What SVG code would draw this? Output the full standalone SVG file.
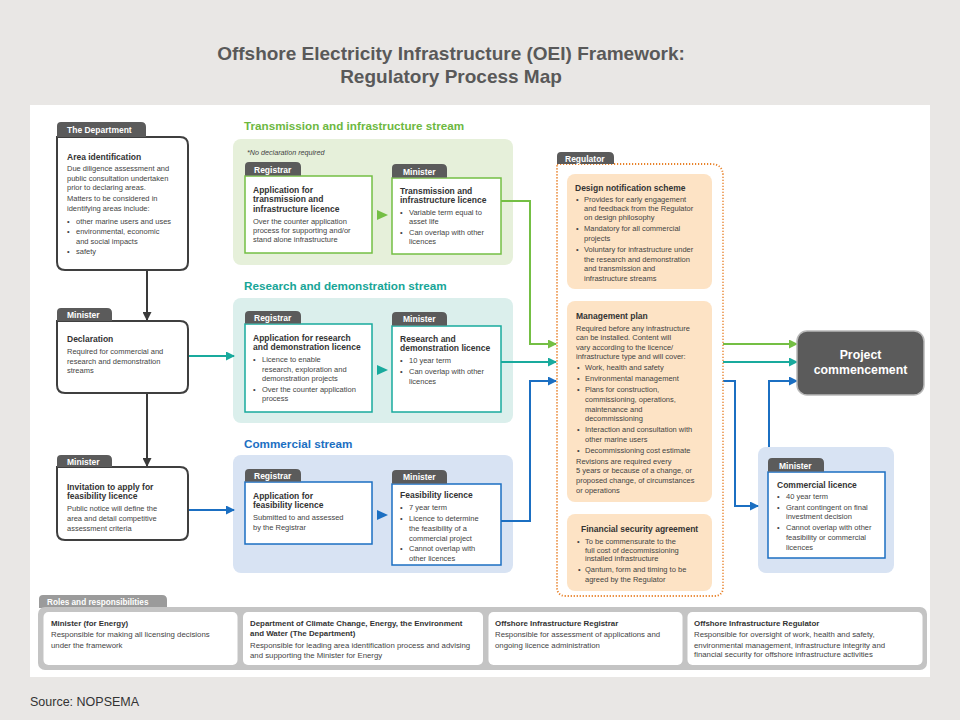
<svg xmlns="http://www.w3.org/2000/svg" width="960" height="720" viewBox="0 0 960 720">
<defs>
<style>
text{font-family:"Liberation Sans",Arial,sans-serif;}
.title{font-size:19px;font-weight:bold;fill:#595959;}
.src{font-size:12.5px;fill:#333;}
.h{font-size:8.5px;font-weight:bold;fill:#333;}
.b{font-size:7.5px;fill:#444;}
.tt{font-size:8.5px;font-weight:bold;fill:#fff;}
.tab{fill:#5b5b5b;}
.lbox{fill:#fff;stroke:#3f3f3f;stroke-width:2;}
.st{font-size:11.7px;font-weight:bold;}
.gbox{fill:#fff;stroke:#74bf44;stroke-width:1.5;}
.tbox{fill:#fff;stroke:#19aa9d;stroke-width:1.5;}
.bbox{fill:#fff;stroke:#1b6fc2;stroke-width:1.5;}
.peach{fill:#fde3c5;}
.conn{fill:none;stroke-width:2;}
.rh{font-size:7.9px;font-weight:bold;fill:#333;}
.rb{font-size:7.8px;fill:#444;}
</style>
<marker id="ak" markerUnits="userSpaceOnUse" markerWidth="9" markerHeight="9" refX="8" refY="4.5" orient="auto"><path d="M0,0 L9,4.5 L0,9 Z" fill="#3a3a3a"/></marker>
<marker id="ag" markerUnits="userSpaceOnUse" markerWidth="9" markerHeight="9" refX="8" refY="4.5" orient="auto"><path d="M0,0 L9,4.5 L0,9 Z" fill="#74bf44"/></marker>
<marker id="at" markerUnits="userSpaceOnUse" markerWidth="9" markerHeight="9" refX="8" refY="4.5" orient="auto"><path d="M0,0 L9,4.5 L0,9 Z" fill="#19aa9d"/></marker>
<marker id="ab" markerUnits="userSpaceOnUse" markerWidth="9" markerHeight="9" refX="8" refY="4.5" orient="auto"><path d="M0,0 L9,4.5 L0,9 Z" fill="#1b6fc2"/></marker>
</defs>

<rect width="960" height="720" fill="#e9e7e5"/>
<rect x="30" y="105" width="900" height="572" fill="#fff"/>

<text class="title" x="451" y="60" text-anchor="middle">Offshore Electricity Infrastructure (OEI) Framework:</text>
<text class="title" x="451" y="83" text-anchor="middle">Regulatory Process Map</text>
<text class="src" x="30" y="706">Source: NOPSEMA</text>

<!-- Stream backgrounds -->
<rect x="233" y="139" width="280" height="126" rx="8" fill="#e6f0da"/>
<rect x="233" y="298" width="280" height="125" rx="8" fill="#dbefec"/>
<rect x="233" y="455" width="280" height="118" rx="8" fill="#d8e3f3"/>
<rect x="758" y="447" width="136" height="126" rx="8" fill="#d8e3f3"/>
<text class="st" x="244" y="130" fill="#6db83f">Transmission and infrastructure stream</text>
<text class="st" x="244" y="290" fill="#17a597">Research and demonstration stream</text>
<text class="st" x="244" y="448" fill="#1b6fc2">Commercial stream</text>
<text x="247" y="155" style="font-size:7.2px;font-style:italic;fill:#444">*No declaration required</text>

<!-- Connectors -->
<g id="connectors">
<path class="conn" stroke="#3a3a3a" d="M147 271 V320" marker-end="url(#ak)"/>
<path class="conn" stroke="#3a3a3a" d="M147 393 V466" marker-end="url(#ak)"/>
<path class="conn" stroke="#19aa9d" d="M188 356 H234" marker-end="url(#at)"/>
<path class="conn" stroke="#1b6fc2" d="M188 510 H234" marker-end="url(#ab)"/>
<path class="conn" stroke="#74bf44" d="M501 201 H530 V344 H556" marker-end="url(#ag)"/>
<path class="conn" stroke="#19aa9d" d="M501 362 H556" marker-end="url(#at)"/>
<path class="conn" stroke="#1b6fc2" d="M501 521 H530 V381 H556" marker-end="url(#ab)"/>
<path class="conn" stroke="#74bf44" d="M723 344 H797" marker-end="url(#ag)"/>
<path class="conn" stroke="#19aa9d" d="M723 362 H797" marker-end="url(#at)"/>
<path class="conn" stroke="#1b6fc2" d="M723 381 H735 V506 H758" marker-end="url(#ab)"/>
<path class="conn" stroke="#1b6fc2" d="M769 447 V381 H797" marker-end="url(#ab)"/>
<polygon points="377,210 388,215 377,220" fill="#74bf44"/>
<polygon points="377,365 388,370 377,375" fill="#19aa9d"/>
<polygon points="377,510 388,515 377,520" fill="#1b6fc2"/>
</g>

<!-- Left column -->
<g id="area-identification">
<path class="lbox" d="M57 137 H180 Q188 137 188 145 V262 Q188 270 180 270 H65 Q57 270 57 262 Z"/>
<path class="tab" d="M57 137 V126 Q57 122 61 122 H141 Q146 122 146 127 V137 Z"/>
<text class="tt" x="67" y="133">The Department</text>
<text class="h" x="67" y="160">Area identification</text>
<text class="b" x="67" y="171">Due diligence assessment and</text>
<text class="b" x="67" y="181">public consultation undertaken</text>
<text class="b" x="67" y="190">prior to declaring areas.</text>
<text class="b" x="67" y="201">Matters to be considered in</text>
<text class="b" x="67" y="211">identifying areas include:</text>
<text class="b" x="67" y="224">•</text><text class="b" x="76" y="224">other marine users and uses</text>
<text class="b" x="67" y="234">•</text><text class="b" x="76" y="234">environmental, economic</text>
<text class="b" x="76" y="244">and social impacts</text>
<text class="b" x="67" y="254">•</text><text class="b" x="76" y="254">safety</text>
</g>

<g id="declaration">
<path class="lbox" d="M57 321 H180 Q188 321 188 329 V385 Q188 393 180 393 H65 Q57 393 57 385 Z"/>
<path class="tab" d="M57 321 V312 Q57 308 61 308 H107 Q112 308 112 313 V321 Z"/>
<text class="tt" x="67" y="318">Minister</text>
<text class="h" x="67" y="342">Declaration</text>
<text class="b" x="67" y="354">Required for commercial and</text>
<text class="b" x="67" y="364">research and demonstration</text>
<text class="b" x="67" y="373">streams</text>
</g>

<g id="invitation">
<path class="lbox" d="M57 467 H180 Q188 467 188 475 V532 Q188 540 180 540 H65 Q57 540 57 532 Z"/>
<path class="tab" d="M57 467 V459 Q57 455 61 455 H107 Q112 455 112 460 V467 Z"/>
<text class="tt" x="67" y="465">Minister</text>
<text class="h" x="67" y="490">Invitation to apply for</text>
<text class="h" x="67" y="499">feasibility licence</text>
<text class="b" x="67" y="511">Public notice will define the</text>
<text class="b" x="67" y="521">area and detail competitive</text>
<text class="b" x="67" y="531">assessment criteria</text>
</g>

<!-- Transmission stream -->
<g id="trans-application">
<rect class="gbox" x="245" y="176" width="127" height="77"/>
<path class="tab" d="M245 175.5 V166 Q245 162 249 162 H296 Q301 162 301 167 V175.5 Z"/>
<text class="tt" x="254" y="172.5">Registrar</text>
<text class="h" x="253" y="193">Application for</text>
<text class="h" x="253" y="202">transmission and</text>
<text class="h" x="253" y="211.5">infrastructure licence</text>
<text class="b" x="253" y="223.5">Over the counter application</text>
<text class="b" x="253" y="232.5">process for supporting and/or</text>
<text class="b" x="253" y="242">stand alone infrastructure</text>
</g>
<g id="trans-licence">
<rect class="gbox" x="392" y="178" width="109" height="76"/>
<path class="tab" d="M392 177.5 V168 Q392 164 396 164 H442 Q447 164 447 169 V177.5 Z"/>
<text class="tt" x="403" y="174.5">Minister</text>
<text class="h" x="400" y="194">Transmission and</text>
<text class="h" x="400" y="203">infrastructure licence</text>
<text class="b" x="400" y="214.5">•</text><text class="b" x="409" y="214.5">Variable term equal to</text>
<text class="b" x="409" y="223.5">asset life</text>
<text class="b" x="400" y="235">•</text><text class="b" x="409" y="235">Can overlap with other</text>
<text class="b" x="409" y="244">licences</text>
</g>

<!-- Research stream -->
<g id="research-application">
<rect class="tbox" x="245" y="324" width="127" height="88"/>
<path class="tab" d="M245 323.5 V315 Q245 311 249 311 H296 Q301 311 301 316 V323.5 Z"/>
<text class="tt" x="254" y="321">Registrar</text>
<text class="h" x="253" y="341">Application for research</text>
<text class="h" x="253" y="350">and demonstration licence</text>
<text class="b" x="253" y="361.5">•</text><text class="b" x="262" y="361.5">Licence to enable</text>
<text class="b" x="262" y="371.5">research, exploration and</text>
<text class="b" x="262" y="381">demonstration projects</text>
<text class="b" x="253" y="391.5">•</text><text class="b" x="262" y="391.5">Over the counter application</text>
<text class="b" x="262" y="401">process</text>
</g>
<g id="research-licence">
<rect class="tbox" x="392" y="326" width="109" height="86"/>
<path class="tab" d="M392 325.5 V316 Q392 312 396 312 H442 Q447 312 447 317 V325.5 Z"/>
<text class="tt" x="403" y="322">Minister</text>
<text class="h" x="400" y="341.5">Research and</text>
<text class="h" x="400" y="351">demonstration licence</text>
<text class="b" x="400" y="362.5">•</text><text class="b" x="409" y="362.5">10 year term</text>
<text class="b" x="400" y="373.5">•</text><text class="b" x="409" y="373.5">Can overlap with other</text>
<text class="b" x="409" y="383.5">licences</text>
</g>

<!-- Commercial stream -->
<g id="commercial-application">
<rect class="bbox" x="245" y="482" width="127" height="62"/>
<path class="tab" d="M245 481.5 V473 Q245 469 249 469 H296 Q301 469 301 474 V481.5 Z"/>
<text class="tt" x="254" y="479">Registrar</text>
<text class="h" x="253" y="499">Application for</text>
<text class="h" x="253" y="508">feasibility licence</text>
<text class="b" x="253" y="520">Submitted to and assessed</text>
<text class="b" x="253" y="530">by the Registrar</text>
</g>
<g id="feasibility-licence">
<rect class="bbox" x="392" y="484" width="109" height="81"/>
<path class="tab" d="M392 483.5 V474 Q392 470 396 470 H442 Q447 470 447 475 V483.5 Z"/>
<text class="tt" x="403" y="480">Minister</text>
<text class="h" x="400" y="498">Feasibility licence</text>
<text class="b" x="400" y="510">•</text><text class="b" x="409" y="510">7 year term</text>
<text class="b" x="400" y="521">•</text><text class="b" x="409" y="521">Licence to determine</text>
<text class="b" x="409" y="531">the feasibility of a</text>
<text class="b" x="409" y="540.5">commercial project</text>
<text class="b" x="400" y="551">•</text><text class="b" x="409" y="551">Cannot overlap with</text>
<text class="b" x="409" y="560.5">other licences</text>
</g>

<!-- Regulator -->
<g id="regulator">
<path d="M557 164 H711 Q723 164 723 176 V587 Q723 596 714 596 H566 Q557 596 557 587 Z" fill="none" stroke="#e8822a" stroke-width="1.8" stroke-dasharray="1.2 1.8"/>
<path class="tab" d="M557 164 V156 Q557 152 561 152 H609 Q614 152 614 157 V164 Z"/>
<text class="tt" x="565" y="161.5">Regulator</text>
</g>
<g id="design-notification">
<rect class="peach" x="567" y="174" width="145" height="115" rx="8"/>
<text class="h" x="575" y="191">Design notification scheme</text>
<text class="b" x="576" y="201.5">•</text><text class="b" x="584" y="201.5">Provides for early engagement</text>
<text class="b" x="584" y="211">and feedback from the Regulator</text>
<text class="b" x="584" y="219.5">on design philosophy</text>
<text class="b" x="576" y="231">•</text><text class="b" x="584" y="231">Mandatory for all commercial</text>
<text class="b" x="584" y="241">projects</text>
<text class="b" x="576" y="251.5">•</text><text class="b" x="584" y="251.5">Voluntary for infrastructure under</text>
<text class="b" x="584" y="261.5">the research and demonstration</text>
<text class="b" x="584" y="271">and transmission and</text>
<text class="b" x="584" y="281">infrastructure streams</text>
</g>
<g id="management-plan">
<rect class="peach" x="567" y="301" width="145" height="201" rx="8"/>
<text class="h" x="576" y="319">Management plan</text>
<text class="b" x="576" y="331">Required before any infrastructure</text>
<text class="b" x="576" y="340">can be installed. Content will</text>
<text class="b" x="576" y="349.5">vary according to the licence/</text>
<text class="b" x="576" y="358.5">infrastructure type and will cover:</text>
<text class="b" x="577" y="370">•</text><text class="b" x="585" y="370">Work, health and safety</text>
<text class="b" x="577" y="381">•</text><text class="b" x="585" y="381">Environmental management</text>
<text class="b" x="577" y="392">•</text><text class="b" x="585" y="392">Plans for construction,</text>
<text class="b" x="585" y="402">commissioning, operations,</text>
<text class="b" x="585" y="411.5">maintenance and</text>
<text class="b" x="585" y="421">decommissioning</text>
<text class="b" x="577" y="432">•</text><text class="b" x="585" y="432">Interaction and consultation with</text>
<text class="b" x="585" y="441.5">other marine users</text>
<text class="b" x="577" y="452.5">•</text><text class="b" x="585" y="452.5">Decommissioning cost estimate</text>
<text class="b" x="576" y="463.5">Revisions are required every</text>
<text class="b" x="576" y="473">5 years or because of a change, or</text>
<text class="b" x="576" y="483">proposed change, of circumstances</text>
<text class="b" x="576" y="492.5">or operations</text>
</g>
<g id="financial-security">
<rect class="peach" x="567" y="514" width="145" height="77" rx="8"/>
<text class="h" x="581" y="532">Financial security agreement</text>
<text class="b" x="577" y="543.5">•</text><text class="b" x="585" y="543.5">To be commensurate to the</text>
<text class="b" x="585" y="552.5">full cost of decommissioning</text>
<text class="b" x="585" y="561">installed infrastructure</text>
<text class="b" x="578" y="571.5">•</text><text class="b" x="585" y="571.5">Qantum, form and timing to be</text>
<text class="b" x="585" y="581.5">agreed by the Regulator</text>
</g>

<!-- Right side -->
<g id="project-commencement">
<rect x="797" y="331" width="127" height="64" rx="10" fill="#5b5b5b" stroke="#b8b8b8" stroke-width="1.5"/>
<text x="860.5" y="359" text-anchor="middle" style="font-size:12.3px;font-weight:bold;fill:#fff">Project</text>
<text x="860.5" y="373.5" text-anchor="middle" style="font-size:12.3px;font-weight:bold;fill:#fff">commencement</text>
</g>
<g id="commercial-licence">
<rect class="bbox" x="768" y="472" width="117" height="86"/>
<path class="tab" d="M768 471.5 V462 Q768 458 772 458 H819 Q824 458 824 463 V471.5 Z"/>
<text class="tt" x="779" y="468.5">Minister</text>
<text class="h" x="777" y="487.5">Commercial licence</text>
<text class="b" x="777" y="498.5">•</text><text class="b" x="786" y="498.5">40 year term</text>
<text class="b" x="777" y="510">•</text><text class="b" x="786" y="510">Grant contingent on final</text>
<text class="b" x="786" y="519">investment decision</text>
<text class="b" x="777" y="530">•</text><text class="b" x="786" y="530">Cannot overlap with other</text>
<text class="b" x="786" y="540">feasibility or commercial</text>
<text class="b" x="786" y="549.5">licences</text>
</g>

<!-- Roles -->
<g id="roles">
<path d="M39 608 V599 Q39 595 43 595 H162 Q167 595 167 600 V608 Z" fill="#9b9b9b"/>
<text x="47" y="604.5" style="font-size:8.2px;font-weight:bold;fill:#fff">Roles and responsibilities</text>
<rect x="38" y="607" width="889" height="63" rx="7" fill="#c4c4c4"/>
<rect x="43.5" y="612" width="194" height="53" rx="5" fill="#fff"/>
<rect x="243" y="612" width="240" height="53" rx="5" fill="#fff"/>
<rect x="488.5" y="612" width="194" height="53" rx="5" fill="#fff"/>
<rect x="687.5" y="612" width="235" height="53" rx="5" fill="#fff"/>
<text class="rh" x="51" y="626">Minister (for Energy)</text>
<text class="rb" x="51" y="637">Responsible for making all licensing decisions</text>
<text class="rb" x="51" y="647.5">under the framework</text>
<text class="rh" x="250" y="626">Department of Climate Change, Energy, the Environment</text>
<text class="rh" x="250" y="636">and Water (The Department)</text>
<text class="rb" x="250" y="648">Responsible for leading area identification process and advising</text>
<text class="rb" x="250" y="657.5">and supporting the Minister for Energy</text>
<text class="rh" x="495" y="626">Offshore Infrastructure Registrar</text>
<text class="rb" x="495" y="637">Responsible for assessment of applications and</text>
<text class="rb" x="495" y="647.5">ongoing licence administration</text>
<text class="rh" x="694" y="626">Offshore Infrastructure Regulator</text>
<text class="rb" x="694" y="637">Responsible for oversight of work, health and safety,</text>
<text class="rb" x="694" y="647.5">environmental management, infrastructure integrity and</text>
<text class="rb" x="694" y="657">financial security for offshore infrastructure activities</text>
</g>
</svg>
